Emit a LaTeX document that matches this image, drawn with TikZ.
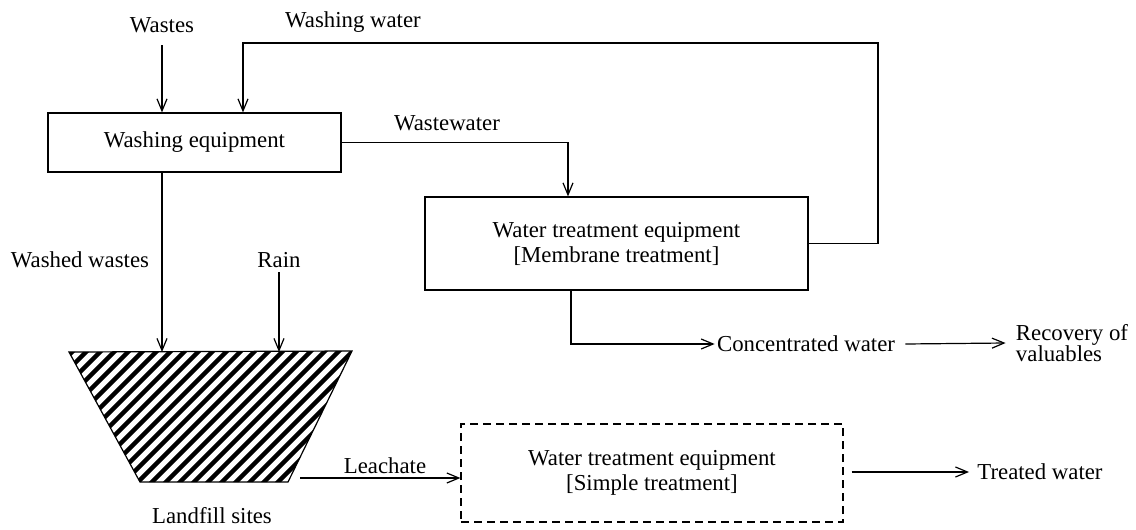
\documentclass[tikz,border=0pt]{standalone}
\usepackage{fontspec}
\setmainfont{Liberation Serif}
\usetikzlibrary{arrows.meta,positioning,calc}
\tikzset{
  txt/.style={font=\fontsize{11.4}{12.5}\selectfont, inner sep=1pt, align=center},
  box/.style={txt, draw, line width=0.6pt},
  dbox/.style={box, dash pattern=on 4pt off 2.5pt},
  arrow/.style={-{Straight Barb[length=6pt,width=5pt]}, line width=0.6pt},
  line/.style={line width=0.6pt},
}

\begin{document}
\begin{tikzpicture}[x=0.5pt, y=-0.5pt]
  \useasboundingbox (0,0) rectangle (1136,530);

  % boxes
  \node[box, minimum width=146.5pt, minimum height=29.5pt] (washer) at (194.5,142.5) {Washing equipment};
  \node[box, minimum width=191.5pt, minimum height=46.5pt] (membrane) at (616.5,243.5) {Water treatment equipment\\{}[Membrane treatment]};
  \node[dbox, minimum width=191pt, minimum height=49pt] (simple) at (652,473) {Water treatment equipment\\{}[Simple treatment]};

  % labels
  \node[txt] (wastes) at (162,25) {Wastes};
  \node[txt] (washwater) at (353,22) {Washing water};
  \node[txt] (wastewater) at (447,123) {Wastewater};
  \node[txt] (washed) at (80,260) {Washed wastes};
  \node[txt] (rain) at (279,260) {Rain};
  \node[txt] (conc) at (806,344) {Concentrated water};
  \node[txt, align=left, font=\fontsize{11.4}{10.5}\selectfont] (recovery) at (1072,343) {Recovery of\\valuables};
  \node[txt] (site) at (212,516) {Landfill sites};
  \node[txt] (leachate) at (385,466) {Leachate};
  \node[txt] (treated) at (1040,472) {Treated water};

  % landfill
  \coordinate (lt) at (69,352);
  \coordinate (rt) at (352,351);
  \coordinate (rb) at (288,482);
  \coordinate (lb) at (140,482);
  \begin{scope}
    \clip (lt) -- (rt) -- (rb) -- (lb) -- cycle;
    \foreach \i in {0,...,31}
      \draw[line width=2.2pt] ({\i*14-80},490) -- ++(160,-160);
  \end{scope}
  \draw[line] (lt) -- (rt) -- (rb) -- (lb) -- cycle;

  % flows
  \draw[arrow] (162,45) -- (washer.north -| 162,0);
  \coordinate (loop) at (878,43);
  \draw[arrow] (membrane.east) -| (loop) -| (washer.north -| 243,0);
  \draw[arrow] (washer.east) -| (membrane.north -| 568,0);
  \draw[arrow] (washer.south -| 162,0) -- (lt -| 162,0);
  \draw[arrow] (279,272) -- (lt -| 279,0);
  \draw[arrow] (membrane.south -| 571,0) |- (conc.west);
  \draw[arrow] ([xshift=4pt]conc.east) -- ([xshift=-4pt]recovery.west);
  \coordinate (leachout) at (300,478);
  \draw[arrow] (leachout) -- (simple.west |- leachout);
  \draw[arrow] ([xshift=4pt]simple.east |- treated.west) -- ([xshift=-3pt]treated.west);
\end{tikzpicture}
\end{document}
